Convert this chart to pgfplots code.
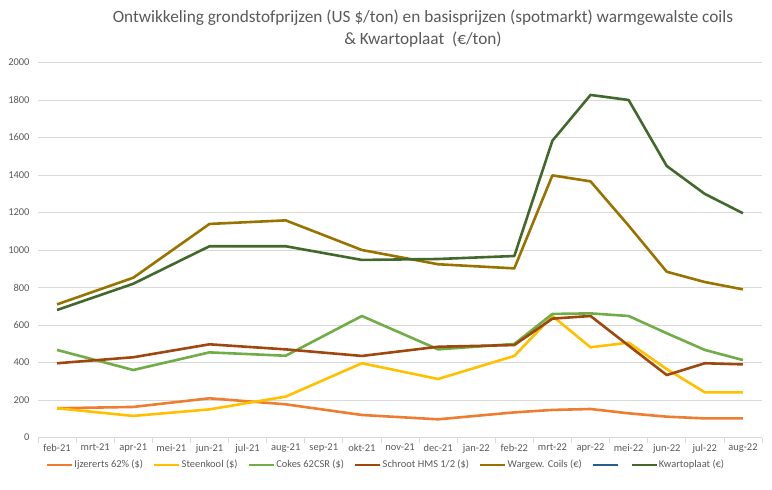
\documentclass[border=0pt]{standalone}
\usepackage{fontspec}
\setmainfont{Carlito}
\usepackage{pgfplots}
\pgfplotsset{compat=1.18}
\usepackage{pgfplotstable}
\definecolor{cIJ}{HTML}{ED7D31}
\definecolor{cST}{HTML}{FFC000}
\definecolor{cCO}{HTML}{70AD47}
\definecolor{cSC}{HTML}{9E480E}
\definecolor{cWA}{HTML}{997300}
\definecolor{cBL}{HTML}{255E91}
\definecolor{cKW}{HTML}{43682B}
\definecolor{txt}{HTML}{595959}
\definecolor{grd}{HTML}{D9D9D9}
% x: 0=feb-21 ... 18=aug-22
\pgfplotstableread{
x ij st co sc wa kw
0 156 156 467 396 710 680
2 163 115 360 428 852 820
4 209 150 454 497 1139 1020
6 177 218 436 470 1158 1020
8 120 396 648 435 1000 947
10 97 312 470 484 924 952
12 134 435 499 493 902 968
13 147 648 659 634 1398 1583
14 152 481 662 648 1366 1827
15 129 506 648 490 1130 1800
16 111 365 556 333 884 1448
17 102 241 467 396 829 1299
18 102 241 413 390 790 1196
}\data
\begin{document}
\begin{tikzpicture}
\path[use as bounding box] (0,0) rectangle (772bp,490bp);
\node[text=txt, font=\fontsize{17.3}{22}\selectfont, align=center] at (423bp,461bp)
 {Ontwikkeling grondstofprijzen (US \$/ton) en basisprijzen (spotmarkt) warmgewalste coils\\ \& Kwartoplaat\ \ (€/ton)};
\begin{axis}[
 at={(38bp,52.5bp)}, anchor=south west,
 scale only axis, width=724bp, height=375bp,
 xmin=-0.5, xmax=18.5, ymin=0, ymax=2000,
 ytick={0,200,...,2000},
 xtick={0,...,18},
 xticklabels={feb-21,mrt-21,apr-21,mei-21,jun-21,jul-21,aug-21,sep-21,okt-21,nov-21,dec-21,jan-22,feb-22,mrt-22,apr-22,mei-22,jun-22,jul-22,aug-22},
 minor xtick={-0.5,0.5,...,18.5},
 axis x line*=bottom, axis y line*=left,
 x axis line style={draw=grd, line width=0.75bp},
 y axis line style={draw=none},
 major tick length=0pt,
 minor tick length=5bp,
 xtick align=outside,
 minor tick style={draw=grd, line width=0.75bp},
 ymajorgrids, grid style={draw=grd, line width=0.75bp},
 tick label style={text=txt, font=\fontsize{10.5}{12}\selectfont},
 /pgf/number format/assume math mode=true,
 /pgf/number format/1000 sep={},
 yticklabel style={xshift=-5bp},
 xticklabel style={yshift=-3bp},
 legend columns=7,
 legend style={at={(0.48,-0.073)}, anchor=center, draw=none, fill=none,
   font=\fontsize{10.5}{12}\selectfont, text=txt,
   /tikz/every odd column/.append style={column sep=0bp},
   /tikz/every even column/.append style={column sep=9bp},
   nodes={inner xsep=1bp}},
 legend image code/.code={\draw[#1, line width=2.6bp] (0bp,0bp) -- (25bp,0bp);},
 every axis plot/.append style={line width=2.6bp, line join=round, no marks},
]
\addplot[cIJ] table[x=x,y=ij]{\data}; \addlegendentry{Ijzererts 62\% (\$)}
\addplot[cST] table[x=x,y=st]{\data}; \addlegendentry{Steenkool (\$)}
\addplot[cCO] table[x=x,y=co]{\data}; \addlegendentry{Cokes 62CSR (\$)}
\addplot[cSC] table[x=x,y=sc]{\data}; \addlegendentry{Schroot HMS 1/2 (\$)}
\addplot[cWA] table[x=x,y=wa]{\data}; \addlegendentry{Wargew. Coils (€)}
\addlegendimage{cBL}\addlegendentry{}
\addplot[cKW] table[x=x,y=kw]{\data}; \addlegendentry{Kwartoplaat (€)}
\end{axis}
\end{tikzpicture}
\end{document}
